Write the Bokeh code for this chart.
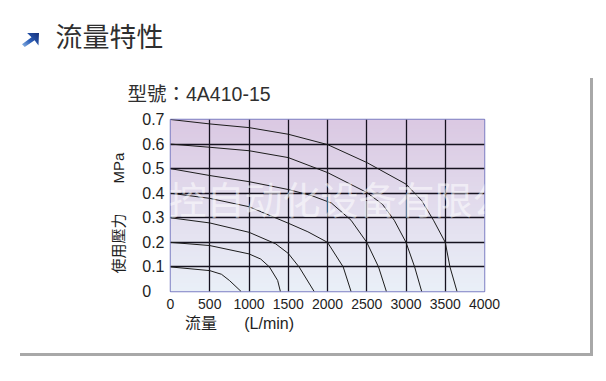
import numpy as np
from bokeh.plotting import figure
from bokeh.models import Label, FixedTicker, Range1d, InlineStyleSheet, Title
from bokeh.core.enums import CoordinateUnits
from bokeh.embed import file_html
from bokeh.resources import INLINE

# ---- data ----
x_ticks = [0, 500, 1000, 1500, 2000, 2500, 3000, 3500, 4000]
y_ticks = [0, 0.1, 0.2, 0.3, 0.4, 0.5, 0.6, 0.7]

flow_07 = [0, 500, 1000, 1500, 2000, 2500, 3000, 3200, 3350, 3500, 3560, 3650]
p_07 = [0.70, 0.682, 0.667, 0.640, 0.598, 0.525, 0.437, 0.37, 0.29, 0.20, 0.10, 0.0]

flow_06 = [0, 500, 1000, 1500, 2000, 2500, 2700, 2850, 3000, 3110, 3200]
p_06 = [0.60, 0.587, 0.573, 0.545, 0.484, 0.403, 0.355, 0.29, 0.20, 0.10, 0.0]

flow_05 = [0, 500, 1000, 1500, 1800, 2050, 2300, 2500, 2650, 2750]
p_05 = [0.50, 0.472, 0.447, 0.415, 0.39, 0.36, 0.29, 0.20, 0.10, 0.0]

flow_04 = [0, 500, 1000, 1500, 1750, 2000, 2200, 2300]
p_04 = [0.40, 0.379, 0.345, 0.278, 0.243, 0.20, 0.10, 0.0]

flow_03 = [0, 500, 1000, 1340, 1500, 1640, 1830]
p_03 = [0.30, 0.279, 0.241, 0.194, 0.155, 0.099, 0.0]

flow_02 = [0, 500, 1000, 1150, 1260, 1365, 1400]
p_02 = [0.20, 0.187, 0.153, 0.132, 0.10, 0.045, 0.0]

flow_01 = [0, 500, 650, 750, 900]
p_01 = [0.10, 0.085, 0.07, 0.045, 0.0]

curves = [(flow_01, p_01), (flow_02, p_02), (flow_03, p_03), (flow_04, p_04),
          (flow_05, p_05), (flow_06, p_06), (flow_07, p_07)]

W, H = 600, 376
FL, FT, FR, FB = 170, 119, 484, 291   # frame edges on the page

p = figure(width=W, height=H, output_backend="svg", toolbar_location=None,
           x_range=Range1d(x_ticks[0], x_ticks[-1]),
           y_range=Range1d(y_ticks[0], y_ticks[-1]),
           min_border_left=FL, min_border_right=W - FR,
           min_border_top=FT, min_border_bottom=H - FB)
p.background_fill_color = "white"
p.border_fill_color = "white"
p.outline_line_color = "#7d7fc4"
p.outline_line_width = 1.5

# decorations: page frame lines and the blue arrow icon
p.stylesheets = [InlineStyleSheet(css="""
:host { position: relative; }
:host::after { content: ''; position: absolute; left: 20px; top: 78px;
  width: 570px; height: 275px; border-right: 3px solid #a8a8a8;
  border-bottom: 3px solid #a8a8a8; z-index: 5; pointer-events: none; }
:host::before { content: ''; position: absolute; left: 22px; top: 33px;
  width: 17px; height: 14px; z-index: 5;
  background: linear-gradient(225deg, #14307a 0%, #2d5fb8 55%, #8fb8e6 100%);
  clip-path: polygon(30% 0%, 100% 0%, 97% 90%, 74% 52%, 16% 100%, 0% 80%, 56% 30%); }
""")]

# gradient background of plot area
rows = 172
top = np.array([219, 201, 227])
bot = np.array([234, 240, 248])
t = np.linspace(0, 1, rows)[:, None]
cols = (bot * (1 - t) + top * t).astype(np.uint32)
img = np.empty((rows, 1), dtype=np.uint32)
view = img.view(dtype=np.uint8).reshape((rows, 1, 4))
view[:, 0, 0] = cols[:, 0]
view[:, 0, 1] = cols[:, 1]
view[:, 0, 2] = cols[:, 2]
view[:, 0, 3] = 255
r_img = p.image_rgba(image=[img], x=x_ticks[0], y=y_ticks[0],
                     dw=x_ticks[-1] - x_ticks[0], dh=y_ticks[-1] - y_ticks[0])
r_img.level = "image"

# grid
for g in (p.xgrid, p.ygrid):
    g.grid_line_color = "#15121f"
    g.grid_line_width = 1.3
    g.grid_line_alpha = 1.0
p.xaxis.ticker = FixedTicker(ticks=x_ticks)
p.yaxis.ticker = FixedTicker(ticks=y_ticks)
p.xgrid.ticker = FixedTicker(ticks=x_ticks)
p.ygrid.ticker = FixedTicker(ticks=y_ticks)

LAT = "Liberation Sans, Noto Sans CJK TC"
for ax in (p.xaxis, p.yaxis):
    ax.axis_line_color = None
    ax.major_tick_line_color = None
    ax.minor_tick_line_color = None
    ax.major_label_text_font = "Liberation Sans"
    ax.major_label_text_color = "#1e1e1e"
    ax.axis_label_text_font = LAT
    ax.axis_label_text_font_style = "normal"
    ax.axis_label_text_color = "#1e1e1e"
p.xaxis.major_label_text_font_size = "14px"
p.yaxis.major_label_text_font_size = "16px"
p.xaxis.major_label_standoff = 1
p.yaxis.major_label_standoff = 0
p.yaxis.major_label_overrides = {0: "0\u2008\u2007"}

# axis titles (trailing ideographic spaces shift the visible text off-centre as in the original)
p.xaxis.axis_label = "流量\u3000\u2002\u2009(L/min)" + "\u3000" * 11
p.xaxis.axis_label_text_font_size = "16px"
p.xaxis.axis_label_standoff = 3
p.yaxis.axis_label = "使用壓力\u3000\u3000MPa\u3000"
p.yaxis.axis_label_text_font_size = "15px"
p.yaxis.axis_label_standoff = 12

for fx, py in curves:
    p.line(fx, py, line_color="#1c1c1c", line_width=1.0)

# titles above the plot (the figure's own title is the outermost one)
cjk_tc = "Noto Sans CJK TC"
p.title.text = "流量特性"
p.title.align = "left"
p.title.offset = 55 - FL
p.title.text_font = cjk_tc
p.title.text_font_size = "27px"
p.title.text_font_style = "normal"
p.title.text_color = "#2f2f2f"
p.title.standoff = 21
model_title = Title(text="型號：4A410-15", align="left", offset=127 - FL, text_font=LAT,
                    text_font_size="19.5px", text_font_style="normal",
                    text_color="#2f2f2f", standoff=30)
p.add_layout(model_title, "above")

# watermark
if "canvas" in CoordinateUnits:
    wm = Label(x=54, y=197, x_units="canvas", y_units="canvas")
else:
    wm = Label(x=54 - FL, y=FB - 197, x_units="screen", y_units="screen")
wm.update(text="自如工控自动化设备有限公司", text_font="Noto Sans CJK SC",
          text_font_size="38px", text_color="white", text_alpha=0.55,
          text_baseline="middle")
p.add_layout(wm)

open("out.html", "w").write(file_html(p, INLINE))
